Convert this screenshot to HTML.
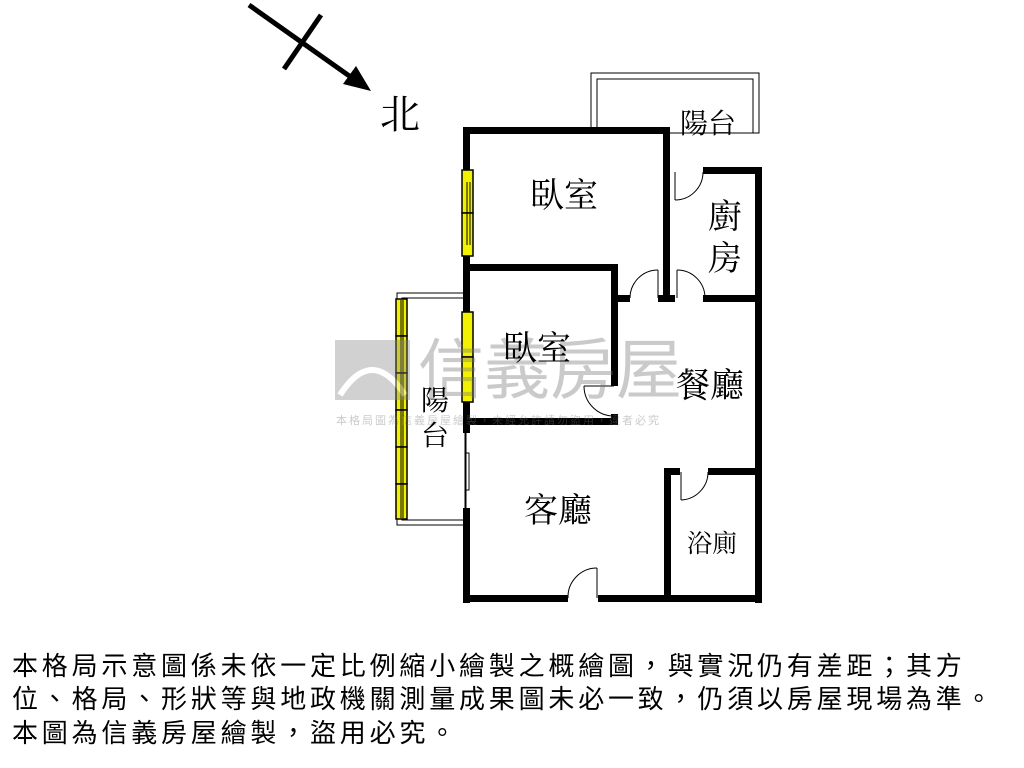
<!DOCTYPE html>
<html><head><meta charset="utf-8"><style>
html,body{margin:0;padding:0;background:#fff;width:1024px;height:768px;overflow:hidden}
svg{position:absolute;left:0;top:0}
.t{font-family:"Liberation Serif","Noto Serif CJK SC","Noto Sans CJK TC",serif;fill:#000}
.b{position:absolute;left:12px;font-family:"Liberation Sans","Noto Sans CJK TC",sans-serif;font-size:26px;letter-spacing:3.8px;color:#000;white-space:nowrap;line-height:26px}
</style></head><body>
<svg width="1024" height="768" viewBox="0 0 1024 768">
<line x1="249" y1="5" x2="355" y2="80" stroke="#000" stroke-width="5"/>
<polygon points="371,91 343,84 356,66" fill="#000"/>
<line x1="321" y1="15" x2="284" y2="69" stroke="#000" stroke-width="5"/>
<text x="380" y="128" class="t" font-size="40">北</text>
<rect x="591" y="73" width="168" height="60" fill="none" stroke="#000" stroke-width="1"/>
<rect x="597" y="79" width="156" height="54" fill="none" stroke="#000" stroke-width="1"/>
<rect x="397" y="293" width="68" height="232" fill="none" stroke="#000" stroke-width="1"/>
<rect x="402" y="298" width="63" height="222" fill="#fff" stroke="#000" stroke-width="1"/>
<g fill="#000">
<rect x="463" y="127" width="207" height="7"/>
<rect x="663" y="127" width="7" height="173"/>
<rect x="463" y="127" width="7" height="306"/>
<rect x="463" y="508" width="7" height="95"/>
<rect x="463" y="595" width="105" height="7"/>
<rect x="598" y="595" width="164" height="7"/>
<rect x="755" y="167" width="7" height="436"/>
<rect x="703" y="167" width="59" height="7"/>
<rect x="703" y="295" width="59" height="7"/>
<rect x="463" y="264" width="155" height="7"/>
<rect x="611" y="264" width="7" height="122"/>
<rect x="611" y="295" width="19" height="7"/>
<rect x="658" y="295" width="17" height="7"/>
<rect x="611" y="414" width="7" height="11"/>
<rect x="463" y="418" width="155" height="7"/>
<rect x="664" y="468" width="7" height="134"/>
<rect x="664" y="468" width="16" height="7"/>
<rect x="708" y="468" width="54" height="7"/>
</g>
<g fill="#f2f200" stroke="#000" stroke-width="1.5">
<rect x="462" y="170" width="11" height="43"/><rect x="462" y="213" width="11" height="43"/>
<rect x="462" y="312" width="11" height="45"/><rect x="462" y="357" width="11" height="45"/>
<rect x="396" y="299" width="11" height="37"/><rect x="396" y="336" width="11" height="37"/>
<rect x="396" y="373" width="11" height="37"/><rect x="396" y="410" width="11" height="37"/>
<rect x="396" y="447" width="11" height="37"/><rect x="396" y="484" width="11" height="35"/>
</g>
<g stroke="#000" stroke-width="1" fill="none">
<line x1="467" y1="182" x2="467" y2="245"/><line x1="470" y1="182" x2="470" y2="245"/>
<line x1="401" y1="300" x2="401" y2="518"/><line x1="403" y1="300" x2="403" y2="518"/>
<line x1="466" y1="433" x2="466" y2="508"/>
<rect x="465" y="453" width="4" height="37"/>
<line x1="675" y1="172" x2="675" y2="200"/><path d="M675,200 A28,28 0 0 0 703,172"/>
<line x1="658" y1="298" x2="658" y2="270"/><path d="M658,270 A28,28 0 0 0 630,298"/>
<line x1="677" y1="298" x2="677" y2="270"/><path d="M677,270 A28,28 0 0 1 705,298"/>
<line x1="614" y1="386" x2="584" y2="386" /><path d="M584,386 A30,30 0 0 0 614,416"/>
<line x1="681" y1="472" x2="681" y2="500"/><path d="M681,500 A28,28 0 0 0 708,472"/>
<line x1="597" y1="598" x2="597" y2="568"/><path d="M597,568 A29,29 0 0 0 568,598"/>
</g>
<g opacity="0.38">
<rect x="335" y="340" width="75" height="60" fill="#888"/>
<path d="M340,395 Q372,345 405,395" stroke="#fff" stroke-width="6" fill="none"/>
<text x="418" y="393" font-family="Liberation Sans,Noto Sans CJK TC,sans-serif" font-size="66" fill="#777">信義房屋</text>
<text x="336" y="424" font-family="Liberation Sans,Noto Sans CJK TC,sans-serif" font-size="11" fill="#777" letter-spacing="2">本格局圖為信義房屋繪製，未經允許請勿盜用，違者必究</text>
</g>
<text x="530" y="207" class="t" font-size="34">臥室</text>
<text x="503" y="360" class="t" font-size="34">臥室</text>
<text x="676" y="397" class="t" font-size="34">餐廳</text>
<text x="708" y="228" class="t" font-size="34">廚</text>
<text x="708" y="270" class="t" font-size="34">房</text>
<text x="680" y="133" class="t" font-size="28">陽台</text>
<text x="421" y="410" class="t" font-size="28">陽</text>
<text x="421" y="445" class="t" font-size="28">台</text>
<text x="524" y="522" class="t" font-size="34">客廳</text>
<text x="687" y="552" class="t" font-size="25">浴廁</text>
</svg>
<div class="b" style="top:653px">本格局示意圖係未依一定比例縮小繪製之概繪圖，與實況仍有差距；其方</div>
<div class="b" style="top:686px">位、格局、形狀等與地政機關測量成果圖未必一致，仍須以房屋現場為準。</div>
<div class="b" style="top:720px">本圖為信義房屋繪製，盜用必究。</div>
</body></html>
